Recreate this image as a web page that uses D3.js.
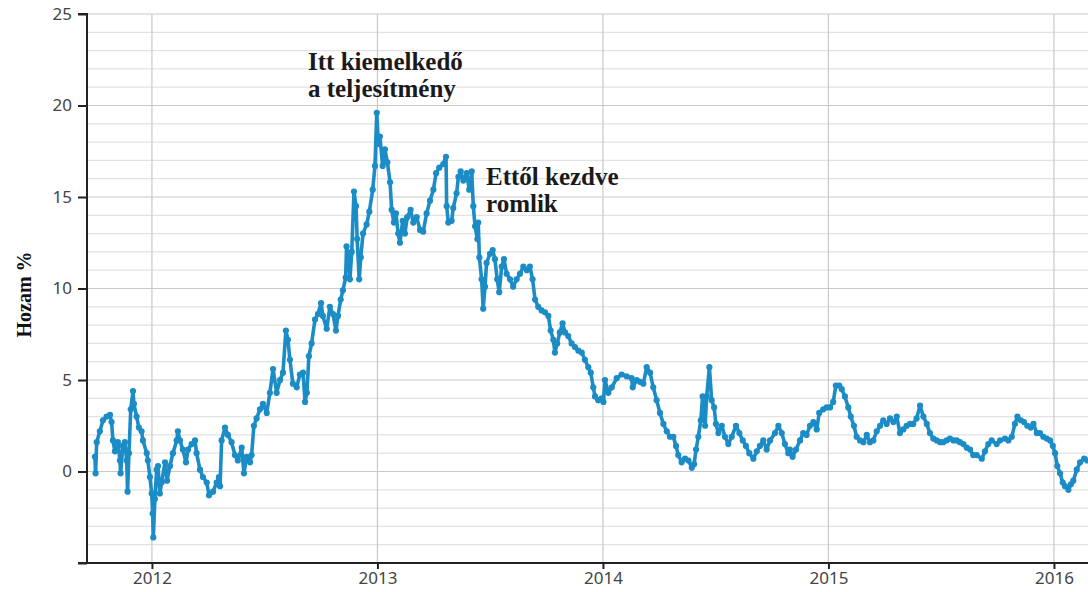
<!DOCTYPE html>
<html>
<head>
<meta charset="utf-8">
<script src="https://cdn.jsdelivr.net/npm/d3@7"></script>
<style>
  html, body { margin: 0; padding: 0; background: #fff; }
  svg { display: block; }
</style>
</head>
<body>
<svg id="chart" width="1088" height="592"></svg>
<script>
// ---- data (decimal years, yield %) ----
const years = [
2011.747,2011.750,2011.755,2011.769,2011.783,2011.799,2011.814,2011.821,2011.827,2011.836,
2011.849,2011.858,2011.861,2011.871,2011.880,2011.888,2011.892,2011.898,2011.906,2011.916,
2011.920,2011.932,2011.942,2011.954,2011.960,2011.977,2011.982,2011.991,2011.999,2012.003,
2012.006,2012.013,2012.021,2012.027,2012.035,2012.043,2012.058,2012.067,2012.080,2012.093,
2012.110,2012.115,2012.124,2012.137,2012.151,2012.160,2012.176,2012.191,2012.198,2012.213,
2012.226,2012.243,2012.253,2012.271,2012.287,2012.297,2012.302,2012.309,2012.324,2012.337,
2012.353,2012.368,2012.381,2012.398,2012.408,2012.420,2012.435,2012.442,2012.452,2012.464,
2012.479,2012.492,2012.509,2012.523,2012.537,2012.553,2012.568,2012.581,2012.594,2012.603,
2012.612,2012.625,2012.642,2012.656,2012.670,2012.679,2012.687,2012.696,2012.708,2012.723,
2012.736,2012.750,2012.758,2012.775,2012.789,2012.803,2012.816,2012.825,2012.837,2012.847,
2012.859,2012.863,2012.874,2012.878,2012.886,2012.896,2012.905,2012.910,2012.919,2012.926,
2012.936,2012.952,2012.964,2012.979,2012.989,2012.997,2013.004,2013.011,2013.023,2013.033,
2013.044,2013.056,2013.063,2013.073,2013.082,2013.092,2013.100,2013.112,2013.122,2013.132,
2013.147,2013.159,2013.174,2013.189,2013.203,2013.218,2013.233,2013.248,2013.260,2013.274,
2013.292,2013.304,2013.307,2013.314,2013.329,2013.336,2013.351,2013.359,2013.369,2013.381,
2013.396,2013.407,2013.418,2013.425,2013.433,2013.443,2013.447,2013.452,2013.462,2013.469,
2013.477,2013.484,2013.499,2013.511,2013.521,2013.531,2013.540,2013.551,2013.561,2013.573,
2013.588,2013.602,2013.617,2013.632,2013.647,2013.662,2013.676,2013.688,2013.699,2013.713,
2013.728,2013.743,2013.758,2013.768,2013.780,2013.787,2013.797,2013.809,2013.821,2013.832,
2013.846,2013.861,2013.876,2013.891,2013.906,2013.920,2013.935,2013.946,2013.957,2013.965,
2013.979,2013.994,2014.002,2014.009,2014.024,2014.039,2014.061,2014.083,2014.105,2014.127,
2014.132,2014.150,2014.164,2014.179,2014.194,2014.209,2014.223,2014.238,2014.253,2014.268,
2014.283,2014.297,2014.312,2014.324,2014.334,2014.349,2014.364,2014.379,2014.394,2014.404,
2014.413,2014.423,2014.434,2014.442,2014.453,2014.460,2014.472,2014.482,2014.493,2014.501,
2014.512,2014.527,2014.541,2014.556,2014.571,2014.590,2014.605,2014.620,2014.634,2014.649,
2014.667,2014.682,2014.696,2014.711,2014.726,2014.741,2014.763,2014.778,2014.793,2014.807,
2014.822,2014.829,2014.841,2014.856,2014.874,2014.888,2014.903,2014.918,2014.933,2014.948,
2014.959,2014.977,2014.992,2015.007,2015.021,2015.033,2015.048,2015.059,2015.073,2015.088,
2015.099,2015.113,2015.125,2015.140,2015.155,2015.170,2015.184,2015.199,2015.214,2015.229,
2015.243,2015.258,2015.273,2015.288,2015.303,2015.317,2015.332,2015.347,2015.362,2015.376,
2015.391,2015.406,2015.421,2015.436,2015.450,2015.465,2015.480,2015.495,2015.509,2015.524,
2015.539,2015.554,2015.569,2015.583,2015.598,2015.613,2015.628,2015.642,2015.657,2015.680,
2015.694,2015.709,2015.724,2015.746,2015.761,2015.783,2015.798,2015.813,2015.827,2015.838,
2015.853,2015.867,2015.882,2015.897,2015.909,2015.924,2015.938,2015.953,2015.968,2015.983,
2015.995,2016.005,2016.015,2016.027,2016.039,2016.049,2016.064,2016.075,2016.086,2016.101,
2016.116,2016.134,2016.148
];
const values = [
0.8,-0.1,1.6,2.2,2.8,3.0,3.1,2.7,1.7,1.1,
1.6,0.6,-0.1,1.4,1.6,0.6,-1.1,1.0,3.4,4.4,
3.7,3.0,2.4,2.2,1.7,1.0,0.6,-0.3,-1.2,-2.3,
-3.6,-1.5,0.1,0.3,-1.2,-0.6,0.5,-0.5,0.3,1.0,
1.7,2.2,1.7,1.2,0.5,1.2,1.5,1.7,1.0,0.1,
-0.3,-0.6,-1.3,-1.1,-0.6,-0.3,-0.8,1.7,2.4,2.0,
1.6,0.9,0.6,1.3,-0.1,0.8,0.5,0.9,2.5,2.9,
3.4,3.7,3.2,4.3,5.6,4.3,5.0,5.4,7.7,7.2,
6.1,4.8,4.6,5.3,5.4,3.8,4.3,6.3,7.0,8.3,
8.6,9.2,8.5,7.8,9.0,8.6,7.7,8.5,9.4,9.9,
10.6,12.3,11.4,10.5,12.0,15.3,14.5,12.7,10.5,11.7,
13.0,13.5,14.2,15.4,16.7,19.6,17.9,18.3,16.7,17.6,
16.9,15.8,14.3,13.6,14.1,13.0,12.5,13.7,13.0,13.9,
14.3,13.6,13.9,13.2,13.1,14.1,14.8,15.4,16.3,16.6,
16.8,17.2,14.5,13.6,13.7,14.4,15.2,16.1,16.4,15.9,
16.3,15.4,16.4,14.5,13.4,12.7,13.6,11.7,10.5,8.9,
10.1,11.4,11.9,12.1,11.6,10.5,9.8,11.2,11.6,10.8,
10.5,10.1,10.5,10.8,11.2,11.0,11.2,10.5,9.4,9.0,
8.8,8.7,8.5,7.7,7.2,6.5,7.0,7.6,8.1,7.6,
7.4,7.0,6.8,6.6,6.5,6.1,5.7,5.4,4.6,4.1,
3.9,4.0,3.8,5.0,4.3,4.6,5.1,5.3,5.2,5.1,
4.6,5.0,4.9,4.8,5.7,5.4,4.6,3.9,3.2,2.6,
2.2,1.9,1.9,1.4,0.9,0.5,0.7,0.6,0.2,0.4,
1.2,1.9,2.8,4.1,2.5,4.1,5.7,3.9,3.5,2.6,
2.1,2.5,1.9,1.5,1.9,2.5,2.1,1.7,1.4,1.0,
0.7,1.1,1.4,1.7,1.2,1.7,2.1,2.5,2.1,1.5,
1.0,1.2,0.8,1.2,1.7,2.1,2.0,2.5,2.7,2.3,
3.2,3.4,3.5,3.5,3.8,4.7,4.7,4.5,4.1,3.5,
3.0,2.5,1.9,1.7,1.6,2.0,1.6,1.7,2.2,2.5,
2.8,2.6,2.9,2.7,3.0,2.1,2.3,2.5,2.6,2.6,
2.9,3.6,3.0,2.6,2.1,1.8,1.7,1.6,1.6,1.7,
1.8,1.7,1.7,1.6,1.5,1.3,1.2,0.9,0.9,0.7,
1.1,1.5,1.7,1.5,1.7,1.8,1.7,1.9,2.6,3.0,
2.8,2.7,2.5,2.4,2.6,2.1,2.1,1.9,1.8,1.7,
1.4,1.0,0.3,-0.1,-0.6,-0.8,-1.0,-0.7,-0.5,0.1,
0.5,0.7,0.6
];
const yTicks = [0, 5, 10, 15, 20, 25];
const yDomain = [-5, 25];
const xTicks = [2012, 2013, 2014, 2015, 2016];
const xDomain = [2011.712, 2016.151];
const yTitle = "Hozam %";
const note1 = ["Itt kiemelkedő", "a teljesítmény"];
const note2 = ["Ettől kezdve", "romlik"];

// ---- layout ----
const svg = d3.select("#chart");
const L = 87, R = 1088, T = 14, B = 563;
const x = d3.scaleLinear().domain(xDomain).range([L, R]);
const y = d3.scaleLinear().domain(yDomain).range([B, T]);

// grid
const grid = svg.append("g");
grid.selectAll("line.h").data(d3.range(yDomain[0] + 1, yDomain[1] + 1))
  .join("line")
  .attr("x1", L).attr("x2", R)
  .attr("y1", d => y(d)).attr("y2", d => y(d))
  .attr("stroke", d => d % 5 === 0 ? "#c9c9c9" : "#e2e2e2")
  .attr("stroke-width", 1.2);
grid.selectAll("line.v").data(xTicks)
  .join("line")
  .attr("x1", d => x(d)).attr("x2", d => x(d))
  .attr("y1", T).attr("y2", B)
  .attr("stroke", "#c9c9c9").attr("stroke-width", 1.2);

// data
const pts = years.map((t, i) => [t, values[i]]);
const color = "#1b8cc6";
svg.append("path")
  .datum(pts)
  .attr("fill", "none")
  .attr("stroke", color)
  .attr("stroke-width", 3.6)
  .attr("stroke-linejoin", "round")
  .attr("d", d3.line().x(d => x(d[0])).y(d => y(d[1])));
svg.append("g").selectAll("circle").data(pts)
  .join("circle")
  .attr("cx", d => x(d[0])).attr("cy", d => y(d[1]))
  .attr("r", 3.1).attr("fill", color);

// axes
const tickFont = "'Noto Sans', 'Open Sans', sans-serif";
const yAxis = svg.append("g").attr("transform", `translate(${L},0)`)
  .call(d3.axisLeft(y).tickValues([-5, ...yTicks]).tickSize(9).tickPadding(6)
    .tickFormat(d => d === -5 ? "" : d3.format("d")(d)));
const xAxis = svg.append("g").attr("transform", `translate(0,${B})`)
  .call(d3.axisBottom(x).tickValues(xTicks).tickSize(6).tickPadding(3).tickFormat(d3.format("d")));
[yAxis, xAxis].forEach(a => {
  a.select(".domain").attr("stroke", "#222").attr("stroke-width", 2);
  a.selectAll(".tick line").attr("stroke", "#222").attr("stroke-width", 2);
  a.selectAll(".tick text").attr("fill", "#444").style("font-family", tickFont).style("font-size", "17px");
});
yAxis.select(".domain").attr("d", `M-9,${B}H0V${T}H-9`);
xAxis.select(".domain").attr("d", `M${L - 9},0H${R}`);

// y title
svg.append("text")
  .attr("transform", `translate(31,${(T + B) / 2 + 6}) rotate(-90)`)
  .attr("text-anchor", "middle")
  .style("font-family", "'Liberation Serif', 'Times New Roman', serif")
  .style("font-weight", "bold").style("font-size", "20px")
  .attr("fill", "#111")
  .text(yTitle);

// annotations
function note(lines, px, py) {
  const t = svg.append("text")
    .style("font-family", "'Liberation Serif', 'Times New Roman', serif")
    .style("font-weight", "bold").style("font-size", "25px")
    .attr("fill", "#1a1a1a");
  lines.forEach((s, i) => t.append("tspan").attr("x", px).attr("y", py + i * 26.5).text(s));
}
note(note1, 308, 70);
note(note2, 486, 185);
</script>
</body>
</html>
